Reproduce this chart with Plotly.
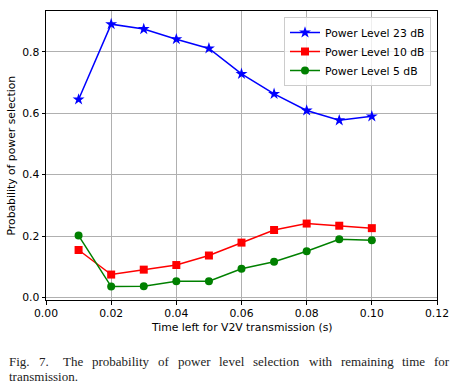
import plotly.graph_objects as go

time_left = [0.01, 0.02, 0.03, 0.04, 0.05, 0.06, 0.07, 0.08, 0.09, 0.10]
p23 = [0.645, 0.890, 0.874, 0.841, 0.811, 0.728, 0.663, 0.609, 0.577, 0.590]
p10 = [0.155, 0.075, 0.091, 0.106, 0.137, 0.179, 0.220, 0.241, 0.234, 0.226]
p5 = [0.202, 0.036, 0.037, 0.053, 0.053, 0.094, 0.117, 0.151, 0.190, 0.187]
series_names = ["Power Level 23 dB", "Power Level 10 dB", "Power Level 5 dB"]
x_ticks = [0.00, 0.02, 0.04, 0.06, 0.08, 0.10, 0.12]
y_ticks = [0.0, 0.2, 0.4, 0.6, 0.8]
caption_line1 = ["Fig.", "7.", "The", "probability", "of", "power", "level",
                 "selection", "with", "remaining", "time", "for"]
caption_line2 = "transmission."

W, H = 457, 391
L, R, T, B = 46, 437, 11, 300
FS = 10.8

def px(x):
    return (x - L) / (R - L)

def py(y):
    return (B - y) / (B - T)

fig = go.Figure()
styles = [("blue", "star", 9), ("red", "square", 8), ("green", "circle", 8)]
for name, ys, (c, sym, sz) in zip(series_names, [p23, p10, p5], styles):
    fig.add_trace(go.Scatter(x=time_left, y=ys, mode="lines+markers", name=name,
                             line=dict(color=c, width=1.5),
                             marker=dict(color=c, symbol=sym, size=sz)))

axis_common = dict(showline=True, linecolor="black", linewidth=1, mirror=True,
                   showgrid=True, gridcolor="#b0b0b0", gridwidth=0.8,
                   ticks="outside", ticklen=3.5, tickcolor="black",
                   tickfont=dict(family="DejaVu Sans", size=FS, color="black"),
                   zeroline=False, automargin=False)
fig.update_xaxes(range=[0, 0.12], tickvals=x_ticks, tickformat=".2f",
                 **axis_common)
fig.update_yaxes(range=[-0.0078, 0.9328], tickvals=y_ticks, tickformat=".1f",
                 **axis_common)

cap_font = dict(family="Liberation Serif", size=13, color="#222")
lab_font = dict(family="DejaVu Sans", size=FS, color="black")
word_x = [7, 36.5, 61, 90, 156, 175.8, 217.2, 251.4, 306.5, 338.5, 400, 432]
annotations = []
for w, xw in zip(caption_line1, word_x):
    annotations.append(dict(text=w, x=px(xw), y=py(361), xref="paper", yref="paper",
                            xanchor="left", yanchor="middle", showarrow=False,
                            font=cap_font))
annotations.append(dict(text=caption_line2, x=px(7), y=py(376), xref="paper", yref="paper",
                        xanchor="left", yanchor="middle", showarrow=False,
                        font=cap_font))
annotations.append(dict(text="Time left for V2V transmission (s)", x=px(241.5), y=py(327),
                        xref="paper", yref="paper", xanchor="center", yanchor="middle",
                        showarrow=False, font=lab_font))
annotations.append(dict(text="Probability of power selection", x=px(11), y=py(155.5),
                        xref="paper", yref="paper", xanchor="center", yanchor="middle",
                        textangle=-90, showarrow=False, font=lab_font))

fig.update_layout(
    width=W, height=H,
    margin=dict(l=L, r=W - R, t=T, b=H - B, autoexpand=False),
    plot_bgcolor="white", paper_bgcolor="white",
    font=dict(family="DejaVu Sans", size=FS, color="black"),
    legend=dict(x=px(431), y=py(17), xanchor="right", yanchor="top",
                bgcolor="rgba(255,255,255,0.8)", bordercolor="#cccccc", borderwidth=1,
                font=dict(family="DejaVu Sans", size=FS), tracegroupgap=0),
    annotations=annotations,
    showlegend=True,
)

fig.write_html("out.html", config={"displayModeBar": False},
               post_script="document.body.style.margin='0px';")
